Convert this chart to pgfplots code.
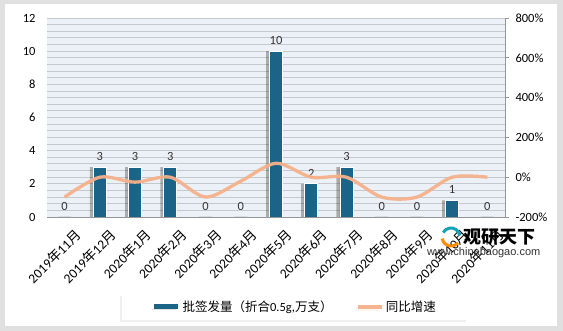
\documentclass[border=0pt]{standalone}
\usepackage{pgfplots}
\pgfplotsset{compat=1.18}
\usepackage{fontspec}
\setmainfont{Carlito}
\newfontfamily\cjk{Noto Sans CJK SC}
\newfontfamily\arial{Liberation Sans}
\usetikzlibrary{shadows}
\definecolor{barc}{RGB}{28,99,136}
\definecolor{linec}{RGB}{246,176,138}
\definecolor{bgc}{RGB}{235,241,246}
\definecolor{gridc}{RGB}{196,201,206}
\definecolor{axc}{RGB}{150,150,150}
\begin{document}
\begin{tikzpicture}[x=1pt,y=1pt]
\fill[black!12] (0,0) rectangle (563,331);
\fill[white] (5,5) rectangle (557,327);
\useasboundingbox (0,0) rectangle (563,331);
\begin{axis}[
  at={(47pt,114pt)}, anchor=south west,
  width=458pt, height=199pt, scale only axis,
  ybar,
  bar width=13pt,
  xmin=-0.5, xmax=12.5, ymin=0, ymax=12,
  xtick={0,...,12},
  xticklabels={2019{\cjk 年}11{\cjk 月},2019{\cjk 年}12{\cjk 月},2020{\cjk 年}1{\cjk 月},2020{\cjk 年}2{\cjk 月},2020{\cjk 年}3{\cjk 月},2020{\cjk 年}4{\cjk 月},2020{\cjk 年}5{\cjk 月},2020{\cjk 年}6{\cjk 月},2020{\cjk 年}7{\cjk 月},2020{\cjk 年}8{\cjk 月},2020{\cjk 年}9{\cjk 月},2020{\cjk 年}10{\cjk 月},2020{\cjk 年}11{\cjk 月}},
  x tick label style={rotate=45, anchor=north east, font=\fontsize{13.5}{14}\selectfont, inner sep=1pt, yshift=-13pt, xshift=0pt},
  ytick={0,2,...,12},
  minor y tick num=4,
  ymajorgrids, yminorgrids,
  major grid style={gridc, line width=0.9pt},
  minor grid style={gridc, line width=0.9pt},
  axis background/.style={fill=bgc},
  axis x line*=bottom,
  axis y line*=left,
  y axis line style={draw=none},
  x axis line style={axc, line width=0.8pt},
  major tick length=0pt, minor tick length=0pt,
  y tick label style={font=\fontsize{12.5}{12}\selectfont, xshift=-8pt},
  /pgf/number format/assume math mode=true,
  nodes near coords style={font=\fontsize{12.5}{12}\selectfont, black!80, yshift=3pt},
]
\addplot[bar shift=-3pt, fill=black, opacity=0.28, draw=none, bar width=14pt]
  coordinates {(1,3) (2,3) (3,3) (6,10) (7,2) (8,3) (11,1)};
\addplot[bar shift=0pt, fill=barc, draw=white, line width=0.8pt, nodes near coords]
  coordinates {(0,0) (1,3) (2,3) (3,3) (4,0) (5,0) (6,10) (7,2) (8,3) (9,0) (10,0) (11,1) (12,0)};
\end{axis}
\begin{axis}[
  at={(47pt,114pt)}, anchor=south west,
  width=458pt, height=199pt, scale only axis,
  xmin=-0.5, xmax=12.5, ymin=-200, ymax=800,
  axis x line=none,
  axis y line*=right,
  y axis line style={axc, line width=0.8pt},
  ytick={-200,0,...,800},
  yticklabel={\pgfmathprintnumber{\tick}\%},
  /pgf/number format/assume math mode=true,
  tick align=outside, major tick length=4pt,
  tick style={axc, line width=0.8pt},
  y tick label style={font=\fontsize{12.5}{12}\selectfont, xshift=3pt},
  legend columns=2,
  legend style={at={(0.541,-0.452)}, anchor=center, draw=none, fill=white,
    font=\fontsize{12.5}{12}\selectfont, inner xsep=30pt, inner ysep=5pt,
    drop shadow={opacity=0.12, shadow xshift=-2pt, shadow yshift=-2pt},
    /tikz/every even column/.style={column sep=22pt}},
  legend cell align=left,
]
\addlegendimage{legend image code/.code={\draw[barc, line width=5pt] (0pt,0pt) -- (24pt,0pt);}}
\addlegendentry{\cjk 批签发量（折合{\normalfont 0.5g,}万支）}
\addplot[smooth, linec, line width=3.3pt, opacity=0.95,
  legend image code/.code={\draw[linec, line width=3.3pt] (0pt,0pt) -- (24pt,0pt);}]
  coordinates {(0,-100) (1,0) (2,-25) (3,0) (4,-100) (5,-20) (6,70) (7,0) (8,0) (9,-100) (10,-100) (11,0) (12,0)};
\addlegendentry{\cjk 同比增速}
\end{axis}
% watermark
\begin{scope}
\draw[orange!90!yellow, line width=3pt] (451,94) ++(190:9) arc (190:320:9);
\draw[barc!60!cyan, line width=3pt] (451,94) ++(10:9) arc (10:150:9);
\node[anchor=west, font=\cjk\bfseries\fontsize{18}{18}\selectfont, inner sep=0pt] at (463,94) {观研天下};
\node[anchor=west, font=\arial\fontsize{11}{11}\selectfont, black!80, inner sep=0pt] at (427,78) {www.chinabaogao.com};
\end{scope}
\end{tikzpicture}
\end{document}
